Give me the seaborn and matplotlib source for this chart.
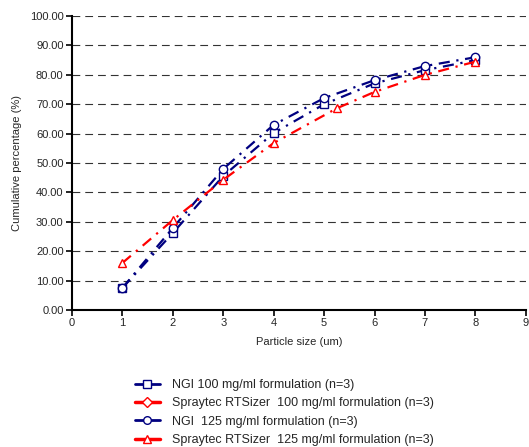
import numpy as np
import pandas as pd
import matplotlib
matplotlib.use("Agg")
import matplotlib.pyplot as plt
from matplotlib.lines import Line2D
import seaborn as sns

# particle size (um)
ngi_x = [1, 2, 3, 4, 5, 6, 7, 8]
spray_x = [1, 2, 3, 4, 5.25, 6, 7, 8]

# cumulative percentage (%)
ngi_100 = [7.5, 26.2, 45.6, 60.2, 70.0, 77.1, 81.6, 85.0]
ngi_125 = [7.5, 27.9, 48.0, 63.0, 72.1, 78.2, 83.0, 86.0]
spray_125 = [16.0, 30.6, 44.3, 56.8, 68.6, 74.2, 80.0, 84.5]

labels = [
    "NGI 100 mg/ml formulation (n=3)",
    "Spraytec RTSizer  100 mg/ml formulation (n=3)",
    "NGI  125 mg/ml formulation (n=3)",
    "Spraytec RTSizer  125 mg/ml formulation (n=3)",
]

navy = "#000080"
red = "#FF0000"

sns.set_style("white")
plt.rcParams["font.family"] = ["Liberation Sans", "DejaVu Sans"]

fig = plt.figure(figsize=(5.29, 4.47), dpi=100)
ax = fig.add_axes([0.136, 0.3065, 0.858, 0.6575])

dashdot = (0, (5, 3, 1, 3))
common = dict(linewidth=1.6, markersize=6, markerfacecolor="white",
              markeredgewidth=1, zorder=3)

sns.lineplot(x=ngi_x, y=ngi_100, ax=ax, color=navy, marker="s",
             markeredgecolor=navy, linestyle=dashdot, **common)
sns.lineplot(x=ngi_x, y=ngi_125, ax=ax, color=navy, marker="o",
             markeredgecolor=navy, linestyle=dashdot, **common)
sns.lineplot(x=spray_x, y=spray_125, ax=ax, color=red, marker="^",
             markeredgecolor=red, linestyle=dashdot, **common)

ax.set_xlim(0, 9)
ax.set_ylim(0, 100)
ax.set_xticks(range(0, 10))
ax.set_yticks(np.arange(0, 101, 10))
ax.set_yticklabels([f"{v:.2f}" for v in np.arange(0, 101, 10)])
ax.tick_params(axis="both", labelsize=8, direction="out", length=4,
               width=1.2, color="black", pad=2, left=True, bottom=True)
ax.yaxis.grid(True, color="#333333", linestyle=(0, (7, 4.5)), linewidth=0.8)
ax.xaxis.grid(False)
for s in ["top", "right"]:
    ax.spines[s].set_visible(False)
for s in ["left", "bottom"]:
    ax.spines[s].set_color("black")
    ax.spines[s].set_linewidth(1.5)

ax.set_xlabel("Particle size (um)", fontsize=8, labelpad=6)
ax.set_ylabel("Cumulative percentage (%)", fontsize=8, labelpad=6)

handles = [
    Line2D([], [], color=navy, lw=2, marker="s", ms=5.5, mfc="white", mec=navy, mew=1),
    Line2D([], [], color=red, lw=2.5, marker="D", ms=5, mfc="white", mec=red, mew=1),
    Line2D([], [], color=navy, lw=2, marker="o", ms=5.5, mfc="white", mec=navy, mew=1),
    Line2D([], [], color=red, lw=2.5, marker="^", ms=5.5, mfc="white", mec=red, mew=1),
]
fig.legend(handles, labels, loc="upper left", bbox_to_anchor=(0.245, 0.163),
           frameon=False, fontsize=9, handlelength=2.0, labelspacing=0.5,
           handletextpad=1.0, borderaxespad=0)

fig.savefig("out.png", dpi=100)
